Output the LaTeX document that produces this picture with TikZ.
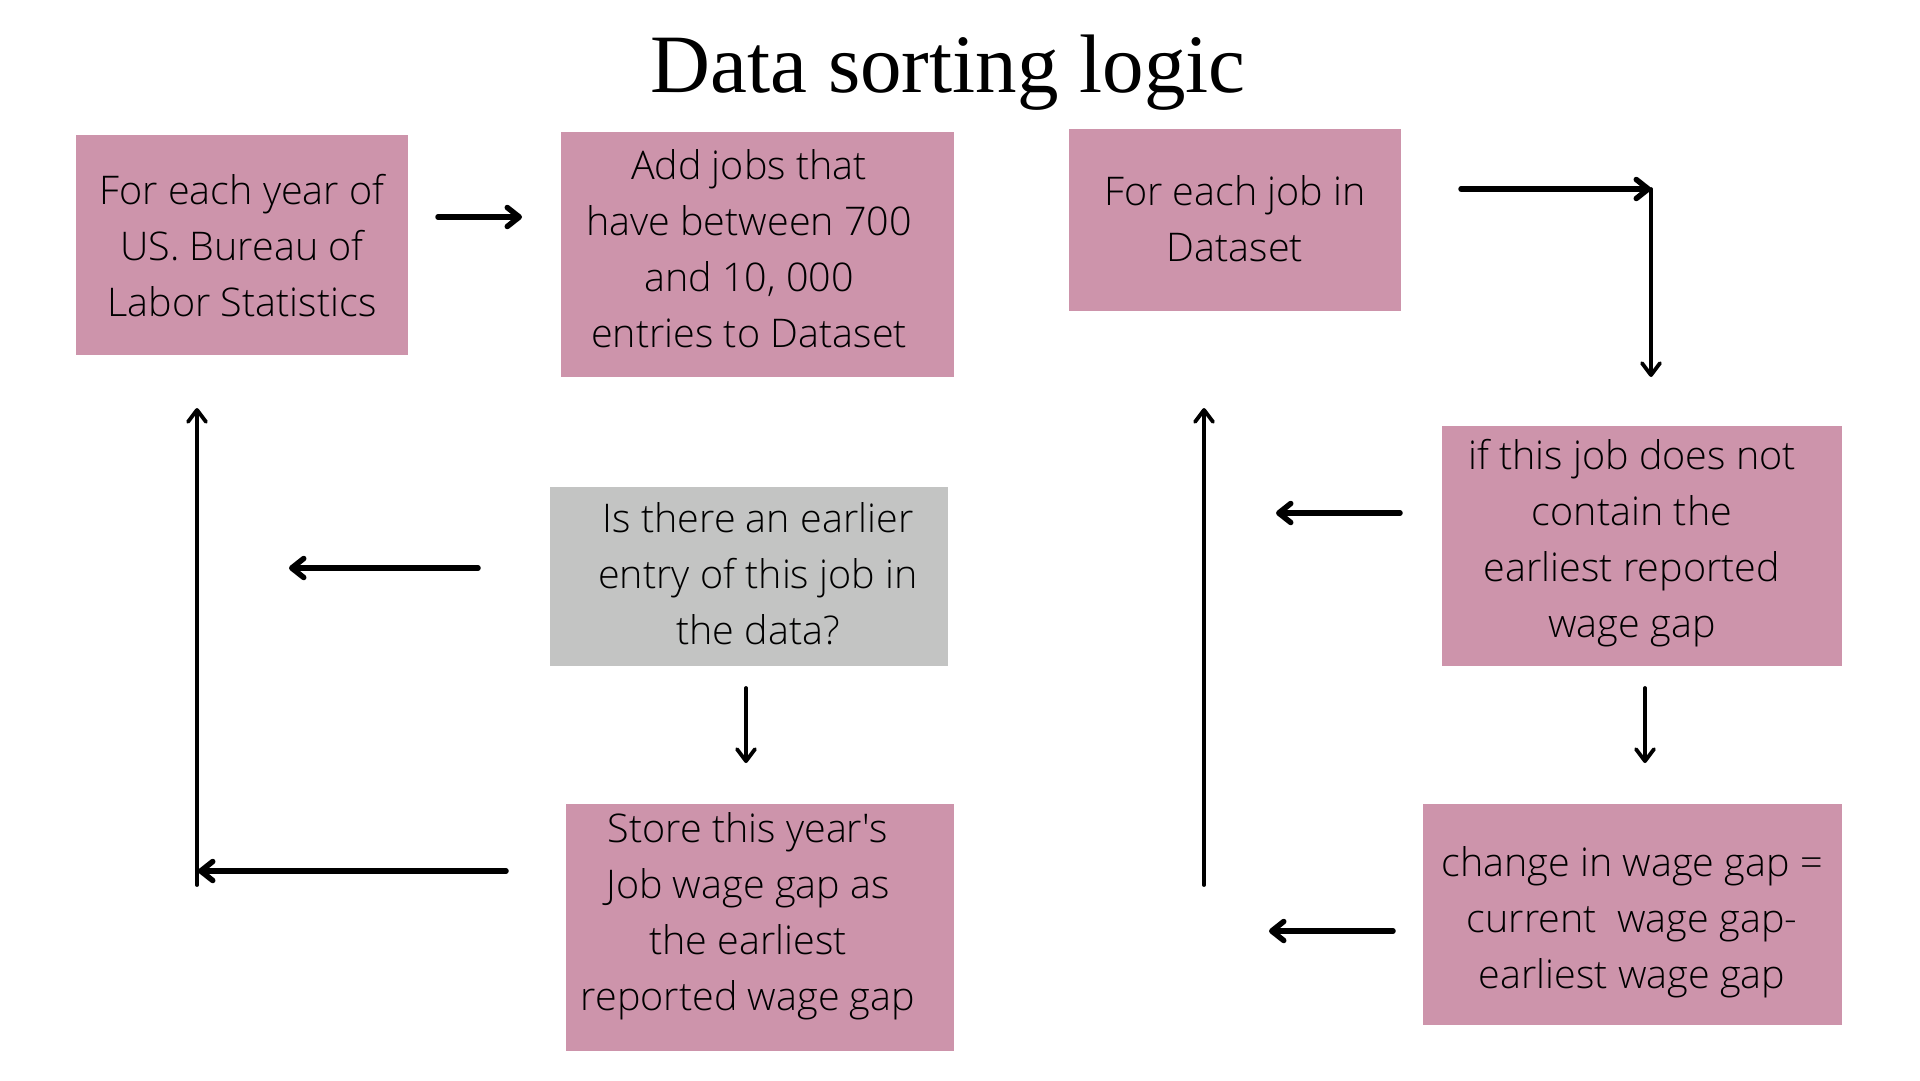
\documentclass[tikz,border=0pt]{standalone}
\usepackage{fontspec}
\setmainfont{Open Sans Light}
\newfontfamily\titlefont{Liberation Serif}
\usetikzlibrary{arrows.meta}
\definecolor{boxpink}{HTML}{CD94AB}
\definecolor{boxgray}{HTML}{C3C4C3}
\tikzset{
  flowbox/.style={fill=boxpink, draw=none, inner sep=0pt},
  graybox/.style={fill=boxgray, draw=none, inner sep=0pt},
  boxtext/.style={align=center, inner sep=0pt, font=\fontsize{39.5}{56}\selectfont, text=black},
  thickarrow/.style={line width=5.5pt, line cap=round, -{Straight Barb[length=12pt, width=19pt, round]}},
  thinarrow/.style={line width=3.8pt, line cap=round, -{Straight Barb[length=12pt, width=18pt, round]}}
}
\begin{document}
\begin{tikzpicture}[x=1pt,y=-1pt]
\useasboundingbox (0,0) rectangle (1920,1080);
\fill[white] (0,0) rectangle (1920,1080);

\node[anchor=base, inner sep=0pt, font=\titlefont\fontsize{83}{90}\selectfont] (title) at (948,92) {Data sorting logic};

% boxes
\node[flowbox, minimum width=332pt, minimum height=220pt] (b1) at (242,245) {};
\node[flowbox, minimum width=393pt, minimum height=245pt] (b2) at (757.5,254.5) {};
\node[flowbox, minimum width=332pt, minimum height=182pt] (b3) at (1235,220) {};
\node[flowbox, minimum width=400pt, minimum height=240pt] (b4) at (1642,546) {};
\node[graybox, minimum width=398pt, minimum height=179pt] (b5) at (749,576.5) {};
\node[flowbox, minimum width=388pt, minimum height=247pt] (b6) at (760,927.5) {};
\node[flowbox, minimum width=419pt, minimum height=221pt] (b7) at (1632.5,914.5) {};

% texts
\node[boxtext] (t1) at (242,246) {For each year of\\US. Bureau of\\Labor Statistics};
\node[boxtext] (t2) at (749,249) {Add jobs that\\have between 700\\and 10, 000\\entries to Dataset};
\node[boxtext] (t3) at (1235,219) {For each job in\\Dataset};
\node[boxtext] (t4) at (1632,543) {if this job does not\\contain the\\earliest reported\\wage gap};
\node[boxtext] (t5) at (758,574) {Is there an earlier\\entry of this job in\\the data?};
\node[boxtext] (t6) at (748,916) {Store this year\textquotesingle s\\Job wage gap as\\the earliest\\reported wage gap};
\node[boxtext] (t7) at (1632,922) {change in wage gap =\\current\ \ wage gap-\\earliest wage gap};

% arrow end points
\coordinate (a1s) at (438,217);  \coordinate (a1e) at (522,217);
\coordinate (a2s) at (1461,189); \coordinate (a2e) at (1651,189);
\coordinate (a3e) at (1651,377);
\coordinate (a4s) at (1400,513); \coordinate (a4e) at (1276,513);
\coordinate (a5s) at (1204,885); \coordinate (a5e) at (1204,408);
\coordinate (a6s) at (1393,931); \coordinate (a6e) at (1269,931);
\coordinate (a7s) at (1645,688); \coordinate (a7e) at (1645,763);
\coordinate (a8s) at (478,568);  \coordinate (a8e) at (289,568);
\coordinate (a9s) at (746,688);  \coordinate (a9e) at (746,763);
\coordinate (a10s) at (506,871); \coordinate (a10e) at (198,871);
\coordinate (a11s) at (197,885); \coordinate (a11e) at (197,408);

\draw[thickarrow] (a1s) -- (a1e);
\draw[thickarrow] (a2s) -- (a2e);
\draw[thinarrow] (a2e) -- (a3e);
\draw[thickarrow] (a4s) -- (a4e);
\draw[thinarrow] (a5s) -- (a5e);
\draw[thickarrow] (a6s) -- (a6e);
\draw[thinarrow] (a7s) -- (a7e);
\draw[thickarrow] (a8s) -- (a8e);
\draw[thinarrow] (a9s) -- (a9e);
\draw[thickarrow] (a10s) -- (a10e);
\draw[thinarrow] (a11s) -- (a11e);
\end{tikzpicture}
\end{document}
